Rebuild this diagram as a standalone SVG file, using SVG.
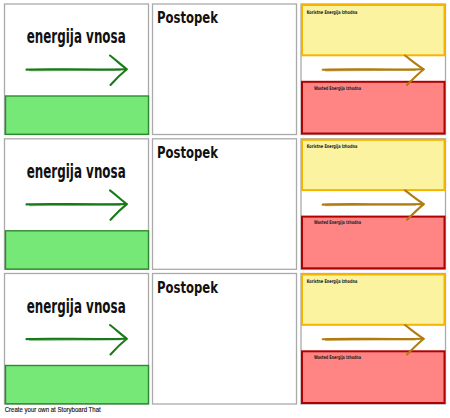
<svg xmlns="http://www.w3.org/2000/svg" width="450" height="418" viewBox="0 0 450 418">
<defs>
<style>
.panel{fill:#fff;stroke:#aaaaaa;stroke-width:1.3}
.green{fill:#76e878;stroke:#2f8a2f;stroke-width:1.4}
.yellow{fill:#fbf3a0;stroke:#f5b400;stroke-width:2}
.red{fill:#ff8585;stroke:#b00000;stroke-width:2}
.head{font-family:"Liberation Sans Narrow","DejaVu Sans Condensed","Liberation Sans",sans-serif;font-weight:bold;fill:#111}
.small{font-family:"Liberation Sans Narrow","DejaVu Sans Condensed","Liberation Sans",sans-serif;font-weight:bold;font-size:5px;fill:#222}
.garrow{fill:none;stroke:#187a18;stroke-width:2.1;stroke-linecap:round;stroke-linejoin:round}
.barrow{fill:none;stroke:#b07c10;stroke-width:2.1;stroke-linecap:round;stroke-linejoin:round}
</style>
<g id="inputPanel">
<rect class="panel" x="4.5" y="0" width="144" height="130.5"/>
<text class="head" x="76.2" y="39" font-size="20" text-anchor="middle" textLength="99" lengthAdjust="spacingAndGlyphs">energija vnosa</text>
<path class="garrow" d="M26.5 65.6 C50 64.5 80 66 126.5 65.3"/>
<path class="garrow" d="M30 66.3 C60 65.6 90 66.2 120 65.8" stroke-width="1" opacity="0.6"/>
<path class="garrow" d="M110 51.5 C116 56 121 61 126.8 65.3 C121 70 115 76 110.5 81"/>
<rect class="green" x="5.5" y="92" width="143" height="38.3"/>
</g>
<g id="processPanel">
<rect class="panel" x="152.5" y="0" width="144" height="130.5"/>
<text class="head" x="157" y="19" font-size="16.5" textLength="61" lengthAdjust="spacingAndGlyphs">Postopek</text>
</g>
<g id="outputPanel">
<rect class="panel" x="301" y="0" width="144.5" height="130.5"/>
<rect class="yellow" x="302" y="1" width="142.5" height="50.3"/>
<text class="small" x="306.7" y="9.6" textLength="50.6" lengthAdjust="spacingAndGlyphs">Koristne Energija Izhodna</text>
<rect class="red" x="302" y="77.8" width="142.5" height="51.7"/>
<text class="small" x="314" y="85.5" textLength="47" lengthAdjust="spacingAndGlyphs">Wasted Energija Izhodna</text>
<path class="barrow" d="M322.7 65.8 C350 64.6 380 66 423.5 65.3"/>
<path class="barrow" d="M326 66.4 C355 65.7 385 66.2 415 65.9" stroke-width="1" opacity="0.6"/>
<path class="barrow" d="M405 51.5 C411 56 417 61 423.8 65.3 C418 70 412 76 407 81"/>
</g>
</defs>
<rect width="450" height="418" fill="#fff"/>
<g id="row1" transform="translate(0,4)">
<g id="input1"><use href="#inputPanel"/></g>
<g id="process1"><use href="#processPanel"/></g>
<g id="output1"><use href="#outputPanel"/></g>
</g>
<g id="row2" transform="translate(0,138.8)">
<g id="input2"><use href="#inputPanel"/></g>
<g id="process2"><use href="#processPanel"/></g>
<g id="output2"><use href="#outputPanel"/></g>
</g>
<g id="row3" transform="translate(0,273.5)">
<g id="input3"><use href="#inputPanel"/></g>
<g id="process3"><use href="#processPanel"/></g>
<g id="output3"><use href="#outputPanel"/></g>
</g>
<g id="connectors"/>
<text x="4.7" y="411.7" font-family="'Liberation Sans',Arial,sans-serif" font-size="7.5" fill="#111" stroke="#111" stroke-width="0.15" textLength="96" lengthAdjust="spacingAndGlyphs">Create your own at Storyboard That</text>
</svg>
